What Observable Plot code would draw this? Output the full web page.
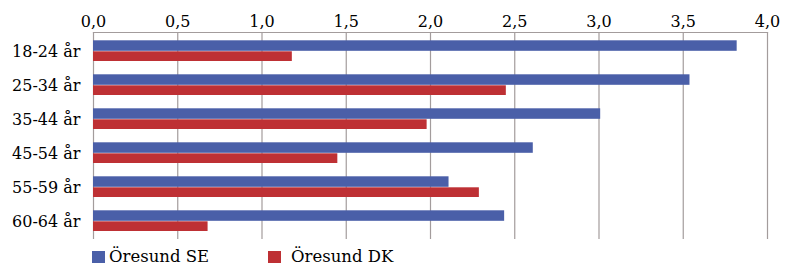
<!DOCTYPE html>
<html>
<head>
<meta charset="utf-8">
<script src="https://cdn.jsdelivr.net/npm/d3@7"></script>
<script src="https://cdn.jsdelivr.net/npm/@observablehq/plot@0.6"></script>
<style>
  html, body { margin: 0; padding: 0; background: #fff; }
  #chart svg { display: block; }
  .legend { position: relative; height: 24px; font-family: "DejaVu Serif", serif; font-size: 16.5px; color: #000; }
  .item { position: absolute; top: 3px; display: flex; align-items: center; line-height: 20px; }
  .sw { width: 13px; height: 12px; }
</style>
</head>
<body>
<div id="chart"></div>
<div class="legend" id="legend"></div>
<script>
const categories = ["18-24 år", "25-34 år", "35-44 år", "45-54 år", "55-59 år", "60-64 år"];
const seriesNames = ["Öresund SE", "Öresund DK"];
const seValues = [3.82, 3.54, 3.01, 2.61, 2.11, 2.44];
const dkValues = [1.18, 2.45, 1.98, 1.45, 2.29, 0.68];
const xTicks = [0, 0.5, 1, 1.5, 2, 2.5, 3, 3.5, 4];
const colors = ["#4a5fa8", "#be3034"];

const seData = categories.map((c, i) => ({cat: c, value: seValues[i]}));
const dkData = categories.map((c, i) => ({cat: c, value: dkValues[i]}));
const fmt = d => d3.format(".1f")(d).replace(".", ",");

const chart = Plot.plot({
  width: 786,
  height: 244,
  marginTop: 32,
  marginBottom: 5,
  marginLeft: 93,
  marginRight: 19,
  style: {fontFamily: "DejaVu Serif, serif", fontSize: "16px", color: "#000", background: "#fff"},
  x: {domain: [0, 4], axis: "top", ticks: xTicks, tickFormat: fmt, tickSize: 0, tickPadding: 6, label: null},
  y: {domain: categories, padding: 0, tickSize: 0, tickPadding: 13, label: null},
  marks: [
    Plot.gridX(xTicks, {stroke: "#a39c9c", strokeOpacity: 1, strokeWidth: 1.2}),
    Plot.barX(seData, {x: "value", y: "cat", fill: colors[0], insetTop: 6.3, insetBottom: 17.2}),
    Plot.barX(dkData, {x: "value", y: "cat", fill: colors[1], insetTop: 17.3, insetBottom: 7}),
    Plot.frame({anchor: "top", stroke: "#a39c9c", strokeWidth: 1.2})
  ]
});
document.getElementById("chart").appendChild(chart);

const legend = document.getElementById("legend");
const lefts = [92, 268];
const gaps = [4, 10];
seriesNames.forEach((name, i) => {
  const item = document.createElement("div");
  item.className = "item";
  item.style.left = lefts[i] + "px";
  const sw = document.createElement("span");
  sw.className = "sw";
  sw.style.background = colors[i];
  sw.style.marginRight = gaps[i] + "px";
  const t = document.createElement("span");
  t.textContent = name;
  item.appendChild(sw);
  item.appendChild(t);
  legend.appendChild(item);
});
</script>
</body>
</html>
